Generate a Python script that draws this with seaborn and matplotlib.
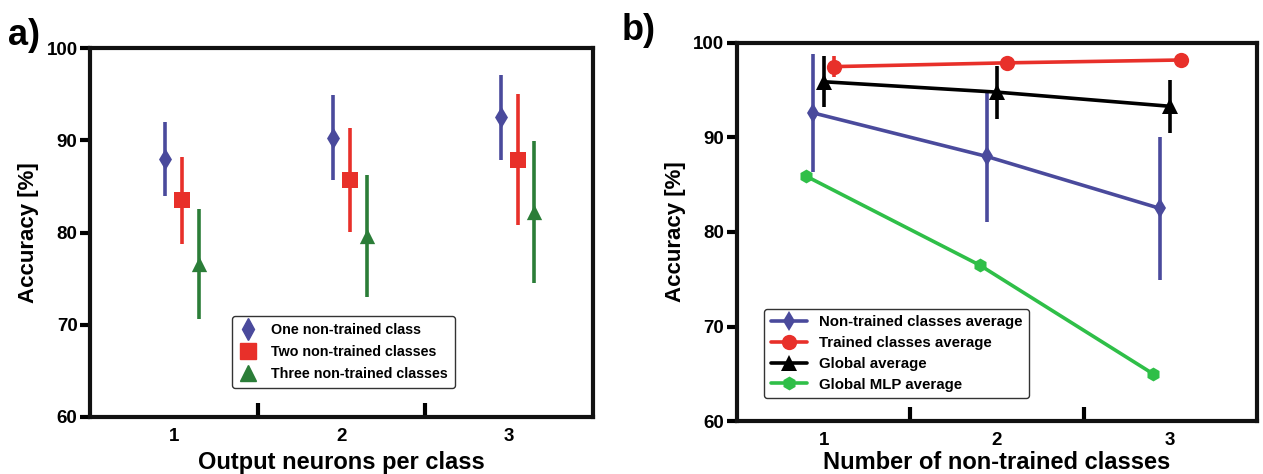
import matplotlib
matplotlib.use("Agg")
import matplotlib.pyplot as plt
import seaborn as sns
import numpy as np
from matplotlib.lines import Line2D

sns.set_theme(style="ticks")
plt.rcParams['font.family'] = ['Liberation Sans', 'DejaVu Sans']
plt.rcParams['font.weight'] = 'bold'
plt.rcParams['axes.labelweight'] = 'bold'
for key in ['text.color', 'axes.labelcolor', 'xtick.color', 'ytick.color', 'axes.edgecolor']:
    plt.rcParams[key] = 'black'

# panel a) accuracy vs output neurons per class
neurons = [1, 2, 3]
one_mean = [88.0, 90.3, 92.5]
one_err = [4.0, 4.6, 4.6]
two_mean = [83.5, 85.7, 87.9]
two_err = [4.7, 5.6, 7.1]
three_mean = [76.6, 79.6, 82.2]
three_err = [6.0, 6.6, 7.7]
labels_a = ["One non-trained class", "Two non-trained classes", "Three non-trained classes"]

# panel b) accuracy vs number of non-trained classes
n_untrained = [1, 2, 3]
untrained_avg = [92.6, 88.0, 82.5]
untrained_err = [6.2, 6.9, 7.6]
trained_avg = [97.5, 97.9, 98.2]
trained_err = [1.1, 0.5, 0.3]
global_avg = [95.9, 94.8, 93.3]
global_err = [2.7, 2.8, 2.8]
mlp_avg = [85.9, 76.5, 65.0]
labels_b = ["Non-trained classes average", "Trained classes average",
            "Global average", "Global MLP average"]

blue = "#4a4a9c"
red = "#e8302a"
dgreen = "#2b7d38"
lgreen = "#2fbf48"

fig = plt.figure(figsize=(12.63, 4.74), dpi=100)
ax1 = fig.add_axes([0.0713, 0.1203, 0.3982, 0.778])
ax2 = fig.add_axes([0.5835, 0.1118, 0.4117, 0.7975])


def style_axes(ax, xlabel, pad):
    ax.set_xlim(0.5, 3.5)
    ax.set_ylim(60, 100)
    ax.set_yticks([60, 70, 80, 90, 100])
    ax.set_xticks([1, 2, 3])
    ax.set_xticks([1.5, 2.5], minor=True)
    ax.tick_params(axis="y", direction="out", length=7, width=3, labelsize=13.5, pad=2)
    ax.tick_params(axis="x", which="major", length=0, labelsize=13.5, pad=8)
    ax.tick_params(axis="x", which="minor", direction="in", length=10, width=3)
    for lab in ax.get_xticklabels() + ax.get_yticklabels():
        lab.set_fontweight("bold")
    for sp in ax.spines.values():
        sp.set_visible(True)
        sp.set_linewidth(3)
        sp.set_color("#111111")
    ax.set_xlabel(xlabel, fontsize=17, labelpad=pad)
    ax.set_ylabel("Accuracy [%]", fontsize=16, labelpad=5)


# ---- panel a
series_a = [(one_mean, one_err, blue, "d", -0.05, 11),
            (two_mean, two_err, red, "s", 0.05, 11),
            (three_mean, three_err, dgreen, "^", 0.15, 11)]
handles_a = []
for (m, e, c, mk, off, ms), lab in zip(series_a, labels_a):
    x = np.array(neurons) + off
    ax1.errorbar(x, m, yerr=e, fmt="none", ecolor=c, elinewidth=2.6, capsize=0, zorder=2)
    sns.scatterplot(x=x, y=m, ax=ax1, color=c, marker=mk, s=ms ** 2,
                    linewidth=0, zorder=3, legend=False)
    handles_a.append(Line2D([], [], linestyle="none", marker=mk, color=c, markersize=ms))

style_axes(ax1, "Output neurons per class", 4)
leg = ax1.legend(handles_a, labels_a, loc="lower left", bbox_to_anchor=(0.268, 0.06),
                 fontsize=10.3, frameon=True, handlelength=1.2, handletextpad=1.0,
                 labelspacing=0.55, borderpad=0.5)
leg.get_frame().set_edgecolor("black")
leg.get_frame().set_linewidth(1.0)

# ---- panel b
series_b = [(untrained_avg, untrained_err, blue, "d", -0.06, 10),
            (trained_avg, trained_err, red, "o", 0.06, 11),
            (global_avg, global_err, "black", "^", 0.0, 11),
            (mlp_avg, None, lgreen, "h", -0.1, 10)]
handles_b = []
for (m, e, c, mk, off, ms), lab in zip(series_b, labels_b):
    x = np.array(n_untrained) + off
    if e is not None:
        ax2.errorbar(x, m, yerr=e, fmt="none", ecolor=c, elinewidth=2.6, capsize=0, zorder=2)
    sns.lineplot(x=x, y=m, ax=ax2, color=c, marker=mk, markersize=ms, linewidth=2.6,
                 markeredgewidth=0, zorder=3, legend=False)
    handles_b.append(Line2D([], [], color=c, marker=mk, markersize=ms, linewidth=2.6,
                            markeredgewidth=0))

style_axes(ax2, "Number of non-trained classes", 1)
leg2 = ax2.legend(handles_b, labels_b, loc="lower left", bbox_to_anchor=(0.038, 0.04),
                  fontsize=10.8, frameon=True, handlelength=2.4, handletextpad=0.8,
                  labelspacing=0.45, borderpad=0.45)
leg2.get_frame().set_edgecolor("black")
leg2.get_frame().set_linewidth(1.0)

fig.text(0.006, 0.905, "a)", fontsize=26, fontweight="bold")
fig.text(0.492, 0.916, "b)", fontsize=26, fontweight="bold")

fig.savefig("out.png", dpi=100, facecolor="white")
